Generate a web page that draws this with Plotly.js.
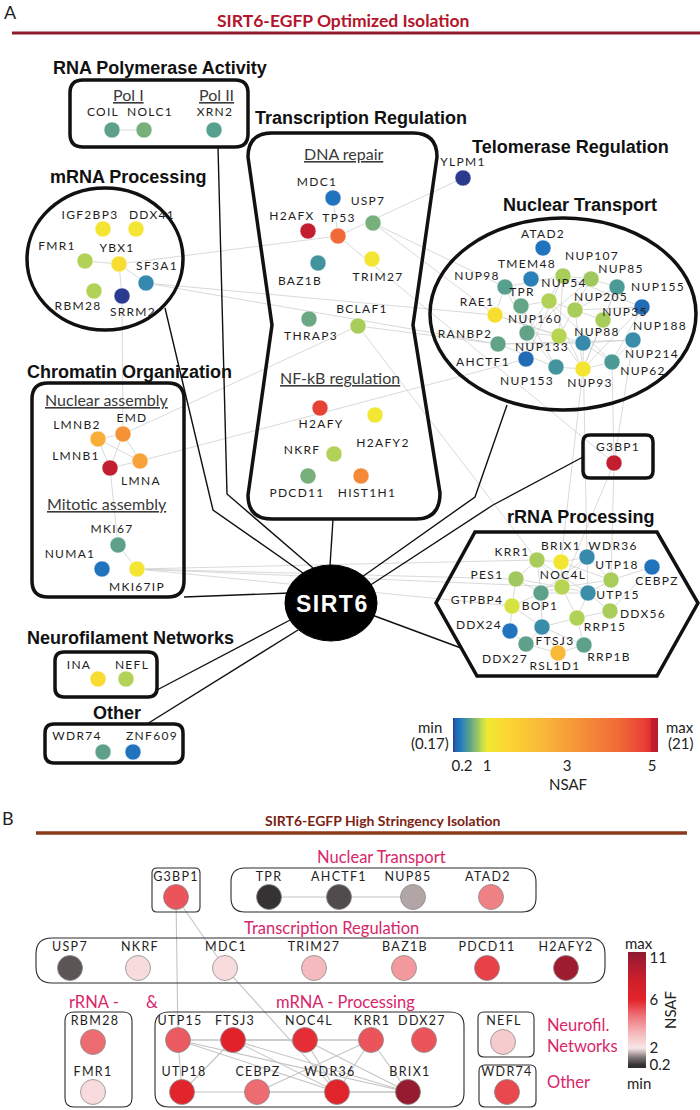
<!DOCTYPE html>
<html><head><meta charset="utf-8">
<script src="https://cdn.plot.ly/plotly-3.0.1.min.js"></script>
<style>
html,body{margin:0;padding:0;background:#fff;}
#chart{width:700px;height:1110px;}
.textpoint text{letter-spacing:1.3px;}
</style></head><body><div id="chart"></div>
<script>
// ================= DATA : Panel A (optimized isolation) =================
const genesA = ['COIL','NOLC1','XRN2',
 'IGF2BP3','DDX41','FMR1','YBX1','SF3A1','RBM28','SRRM2',
 'MDC1','H2AFX','TP53','USP7','BAZ1B','TRIM27','BCLAF1','THRAP3','H2AFY','H2AFY2','NKRF','PDCD11','HIST1H1',
 'YLPM1',
 'ATAD2','TMEM48','NUP107','NUP85','NUP98','NUP155','TPR','NUP54','NUP205','NUP188','RAE1','NUP35','NUP160','NUP133','RANBP2','NUP88','NUP214','AHCTF1','NUP153','NUP93','NUP62',
 'LMNB2','EMD','LMNB1','LMNA','MKI67','NUMA1','MKI67IP',
 'INA','NEFL','WDR74','ZNF609','G3BP1',
 'KRR1','BRIX1','WDR36','UTP18','CEBPZ','PES1','NOC4L','BOP1','UTP15','GTPBP4','DDX56','RRP15','DDX24','FTSJ3','DDX27','RRP1B','RSL1D1'];
const nsafA = [0.45,0.55,0.42,
 1.1,1.1,0.78,1.35,0.25,0.78,0.17,
 0.19,8,4.2,0.55,0.33,1.1,0.75,0.5,4.8,1.05,0.78,0.55,3.5,
 0.17,
 0.19,0.2,0.75,0.72,0.42,0.37,0.48,0.78,0.75,0.185,1.3,0.75,0.47,0.8,0.47,0.26,0.27,0.185,0.33,1.1,0.37,
 2.6,3.3,8,2.9,0.45,0.19,1.1,
 1.35,0.78,0.45,0.19,6.5,
 0.75,1.1,0.26,0.75,0.19,0.72,0.8,0.45,0.28,0.92,0.75,0.78,0.19,0.27,0.45,0.45,2.3];
const edgesA = [
 ['COIL','NOLC1'],
 ['FMR1','YBX1'],['YBX1','SF3A1'],['YBX1','SRRM2'],['YBX1','TP53'],['SF3A1','RAE1'],['SF3A1','RANBP2'],['SRRM2','EMD'],
 ['MDC1','TP53'],['TP53','YLPM1'],['TP53','G3BP1'],['USP7','NUP98'],['USP7','RAE1'],['BCLAF1','RANBP2'],['BCLAF1','KRR1'],['EMD','BCLAF1'],['LMNA','AHCTF1'],
 ['LMNB2','EMD'],['LMNB2','LMNA'],['LMNB2','LMNB1'],['EMD','LMNB1'],['EMD','LMNA'],['LMNB1','LMNA'],['LMNB1','MKI67'],['MKI67','MKI67IP'],
 ['MKI67IP','KRR1'],['MKI67IP','PES1'],['MKI67IP','GTPBP4'],['MKI67IP','NOC4L'],
 ['NUP98','TPR'],['NUP98','NUP107'],['NUP98','NUP160'],['NUP98','RAE1'],['TPR','NUP54'],['TPR','NUP160'],['TPR','NUP153'],['NUP107','NUP85'],['NUP107','NUP133'],['NUP107','NUP160'],['NUP85','NUP155'],['NUP85','NUP133'],['NUP85','NUP160'],['NUP54','NUP62'],['NUP54','NUP93'],['NUP54','NUP205'],['NUP205','NUP93'],['NUP205','NUP188'],['NUP205','NUP155'],['NUP35','NUP93'],['NUP35','NUP155'],['NUP35','NUP205'],['NUP188','NUP93'],['NUP160','NUP133'],['NUP160','NUP153'],['RANBP2','NUP88'],['RANBP2','NUP214'],['RANBP2','NUP153'],['NUP88','NUP214'],['NUP88','NUP62'],['NUP214','NUP62'],['NUP153','NUP93'],['NUP133','NUP93'],['NUP62','NUP93'],['RAE1','NUP88'],['AHCTF1','NUP107'],['AHCTF1','NUP160'],['NUP155','NUP93'],['NUP188','NUP62'],['RAE1','NUP133'],['NUP107','NUP188'],
 ['NUP93','BRIX1'],['NUP62','G3BP1'],['NUP214','G3BP1'],['G3BP1','UTP18'],['G3BP1','NOC4L'],['NUP88','WDR36'],
 ['KRR1','BRIX1'],['KRR1','PES1'],['KRR1','NOC4L'],['KRR1','BOP1'],['BRIX1','WDR36'],['BRIX1','NOC4L'],['BRIX1','UTP18'],['WDR36','UTP18'],['WDR36','UTP15'],['WDR36','NOC4L'],['UTP18','UTP15'],['UTP18','NOC4L'],['UTP18','CEBPZ'],['PES1','BOP1'],['PES1','GTPBP4'],['PES1','NOC4L'],['NOC4L','BOP1'],['NOC4L','UTP15'],['NOC4L','RRP15'],['BOP1','GTPBP4'],['BOP1','FTSJ3'],['BOP1','UTP15'],['UTP15','DDX56'],['UTP15','RRP15'],['GTPBP4','FTSJ3'],['GTPBP4','DDX24'],['DDX56','RRP15'],['RRP15','FTSJ3'],['RRP15','RRP1B'],['FTSJ3','DDX27'],['FTSJ3','RSL1D1'],['FTSJ3','RRP1B'],['DDX27','RSL1D1'],['RRP1B','RSL1D1'],['DDX24','DDX27'],['BOP1','WDR36'],['KRR1','UTP15'],['CEBPZ','DDX56']
];
const ticksA = [0.2, 1, 3, 5];
const tickTextA = ['0.2','1','3','5'];

// ================= DATA : Panel B (high stringency) =================
const genesB = ['G3BP1','TPR','AHCTF1','NUP85','ATAD2',
 'USP7','NKRF','MDC1','TRIM27','BAZ1B','PDCD11','H2AFY2',
 'RBM28','FMR1',
 'UTP15','FTSJ3','NOC4L','KRR1','DDX27','UTP18','CEBPZ','WDR36','BRIX1',
 'NEFL','WDR74'];
const nsafB = [5.2,0.2,0.5,1.4,4.4,
 0.62,2.27,2.3,3.2,3.9,5.5,11,
 4.8,2.3,
 5.1,6.3,5.85,5.2,5.2,6.1,4.8,6.2,12,
 2.75,5.4];
const edgesB = [['TPR','AHCTF1'],['AHCTF1','NUP85'],['G3BP1','MDC1'],['G3BP1','UTP15'],['MDC1','WDR36'],
 ['UTP15','FTSJ3'],['UTP15','UTP18'],['UTP15','WDR36'],['UTP15','BRIX1'],['UTP15','NOC4L'],['FTSJ3','NOC4L'],['FTSJ3','UTP18'],['FTSJ3','WDR36'],['FTSJ3','BRIX1'],['NOC4L','KRR1'],['NOC4L','WDR36'],['NOC4L','BRIX1'],['KRR1','CEBPZ'],['KRR1','WDR36'],['KRR1','BRIX1'],['UTP18','CEBPZ'],['CEBPZ','WDR36'],['WDR36','BRIX1'],['FTSJ3','KRR1'],['CEBPZ','BRIX1']];
const ticksB = [0.2, 2, 6, 11];
const tickTextB = ['0.2','2','6','11'];

// ================= LAYOUT TABLES (positions: node x,y ; label x,y) =================
const posA = {
 COIL:[112,130,103,113], NOLC1:[144,130,150,113], XRN2:[214,130,215,113],
 IGF2BP3:[103,229,90,216], DDX41:[136,229,152,216], FMR1:[85,261,57,247], YBX1:[119,264,117,249], SF3A1:[146,283,157,267], RBM28:[94,291,78,307], SRRM2:[122,296,133,313],
 MDC1:[333,198,317,183], H2AFX:[308,231,292,217], TP53:[338,236,339,219], USP7:[373,223,368,202], BAZ1B:[318,263,300,282], TRIM27:[372,259,378,278], BCLAF1:[358,326,362,310], THRAP3:[309,319,311,337], H2AFY:[320,408,321,425], H2AFY2:[375,415,383,444], NKRF:[334,454,302,451], PDCD11:[308,476,297,494], HIST1H1:[361,476,367,494],
 YLPM1:[463,178,463,163],
 ATAD2:[543,248,543,235], TMEM48:[531,279,527,265], NUP107:[563,276,592,257], NUP85:[591,279,621,270], NUP98:[505,287,477,277], NUP155:[617,287,658,288], TPR:[521,306,522,293], NUP54:[549,301,564,284], NUP205:[575,310,601,298], NUP188:[642,307,660,327], RAE1:[495,315,477,303], NUP35:[603,320,625,313], NUP160:[527,333,535,320], NUP133:[559,336,542,348], RANBP2:[498,344,465,335], NUP88:[583,343,597,333], NUP214:[633,340,652,355], AHCTF1:[526,359,483,363], NUP153:[556,367,527,382], NUP93:[583,369,590,384], NUP62:[612,362,643,372],
 LMNB2:[98,439,77,426], EMD:[123,434,132,419], LMNB1:[110,468,76,457], LMNA:[140,461,141,482], MKI67:[118,545,112,530], NUMA1:[102,569,70,555], MKI67IP:[137,569,137,588],
 INA:[98,679,79,666], NEFL:[126,679,132,666], WDR74:[103,752,77,737], ZNF609:[133,752,152,737], G3BP1:[614,463,618,448],
 KRR1:[537,560,512,553], BRIX1:[561,562,561,547], WDR36:[587,557,613,547], UTP18:[611,580,617,566], CEBPZ:[652,567,657,582], PES1:[516,579,487,576], NOC4L:[562,587,563,576], BOP1:[541,593,540,607], UTP15:[588,593,618,596], GTPBP4:[512,606,477,601], DDX56:[610,611,643,615], RRP15:[577,618,605,628], DDX24:[510,631,479,626], FTSJ3:[542,627,555,642], DDX27:[526,644,505,660], RRP1B:[584,645,609,658], RSL1D1:[558,653,555,667]
};
const posB = {
 G3BP1:[176,897,176,878], TPR:[269,897,269,878], AHCTF1:[339,897,339,878], NUP85:[413,897,408,878], ATAD2:[491,897,488,878],
 USP7:[70,968,70,948], NKRF:[138,968,140,948], MDC1:[225,968,226,948], TRIM27:[314,968,314,948], BAZ1B:[404,968,405,948], PDCD11:[487,968,487,948], H2AFY2:[566,968,566,948],
 RBM28:[93,1042,95,1022], FMR1:[93,1092,93,1073],
 UTP15:[178,1040,180,1022], FTSJ3:[233,1040,235,1022], NOC4L:[305,1040,309,1022], KRR1:[371,1040,372,1022], DDX27:[424,1040,422,1022],
 UTP18:[182,1092,184,1073], CEBPZ:[257,1092,258,1073], WDR36:[337,1092,330,1073], BRIX1:[408,1092,410,1073],
 NEFL:[503,1042,504,1022], WDR74:[507,1092,507,1073]
};
// colour-bar geometry (value -> fraction of bar)
const barA = {v:[0.17,0.2,1,3,5,21], t:[0,0.044,0.166,0.556,0.971,1]};
const barB = {v:[0.15,0.2,2,6,11,13], t:[0,0.026,0.172,0.586,0.948,1]};
function toBar(v, k){
  if(v<=k.v[0]) return k.t[0];
  for(let i=1;i<k.v.length;i++){ if(v<=k.v[i]) return k.t[i-1]+(v-k.v[i-1])/(k.v[i]-k.v[i-1])*(k.t[i]-k.t[i-1]); }
  return k.t[k.t.length-1];
}
const scaleA = [[0,'#2a3b8f'],[0.012,'#2563ad'],[0.035,'#1f78c1'],[0.055,'#3a8cab'],[0.07,'#4b9a96'],[0.085,'#62a388'],[0.10,'#7cb379'],[0.125,'#a3ca5c'],[0.145,'#c8df4b'],[0.17,'#f2e832'],[0.26,'#fbd731'],[0.45,'#f9b53a'],[0.6,'#f59638'],[0.8,'#f06c37'],[0.93,'#e84236'],[0.962,'#e33031'],[0.968,'#c51f2f'],[1,'#b81b2e']];
const scaleB = [[0,'#2f2c2d'],[0.026,'#353233'],[0.09,'#7d7475'],[0.14,'#cdbdbe'],[0.172,'#f7e6e8'],[0.3,'#f5b9bc'],[0.45,'#ee7378'],[0.586,'#e3242b'],[0.75,'#cf1f2b'],[0.948,'#9e1b30'],[1,'#8e1a2f']];

// ================= BUILD TRACES =================
function edgeXY(edges,pos){const x=[],y=[];edges.forEach(([a,b])=>{x.push(pos[a][0],pos[b][0],null);y.push(pos[a][1],pos[b][1],null);});return {x,y};}
const eA = edgeXY(edgesA,posA), eB = edgeXY(edgesB,posB);
const traces = [
 {type:'scatter',mode:'lines',x:eA.x,y:eA.y,line:{color:'#cfcfcf',width:0.8},hoverinfo:'skip'},
 {type:'scatter',mode:'lines',x:eB.x,y:eB.y,line:{color:'#c4c4c4',width:1.1},hoverinfo:'skip'},
 {type:'scatter',mode:'markers',x:genesA.map(g=>posA[g][0]),y:genesA.map(g=>posA[g][1]),
  marker:{size:16,color:nsafA.map(v=>toBar(v,barA)),coloraxis:'coloraxis',line:{color:'rgba(255,255,255,0.65)',width:0.8}}},
 {type:'scatter',mode:'text',x:genesA.map(g=>posA[g][2]),y:genesA.map(g=>posA[g][3]),text:genesA,textposition:'middle center',
  textfont:{family:'Lato',size:12,color:'#1e1e1e'},cliponaxis:false},
 {type:'scatter',mode:'markers',x:genesB.map(g=>posB[g][0]),y:genesB.map(g=>posB[g][1]),
  marker:{size:25,color:nsafB.map(v=>toBar(v,barB)),coloraxis:'coloraxis2',line:{color:'#8a8a8a',width:0.8}}},
 {type:'scatter',mode:'text',x:genesB.map(g=>posB[g][2]),y:genesB.map(g=>posB[g][3]),text:genesB,textposition:'middle center',
  textfont:{family:'Lato',size:12.5,color:'#1e1e1e'},cliponaxis:false}
];

// ================= SHAPES =================
function rr(x0,y0,x1,y1,r){return `M${x0+r},${y0} L${x1-r},${y0} Q${x1},${y0} ${x1},${y0+r} L${x1},${y1-r} Q${x1},${y1} ${x1-r},${y1} L${x0+r},${y1} Q${x0},${y1} ${x0},${y1-r} L${x0},${y0+r} Q${x0},${y0} ${x0+r},${y0} Z`;}
const thick = {color:'#111',width:3.5};
const conn = {color:'#111',width:1.4};
const thin = {color:'#2a2a2a',width:1.1};
const shapes = [
 {type:'line',x0:12,x1:700,y0:33,y1:33,line:{color:'#8e1b2c',width:3}},
 {type:'path',path:rr(70,80,248,147,13),line:thick},
 {type:'path',path:'M272,133 L413,133 Q437,133 437,157 L413,325 L440,493 Q440,519 416,519 L272,519 Q248,519 248,495 L272,325 L248,157 Q248,133 272,133 Z',line:thick},
 {type:'circle',x0:27,x1:183,y0:188,y1:330,line:thick},
 {type:'circle',x0:430,x1:696,y0:218,y1:410,line:thick},
 {type:'path',path:rr(32,383,184,597,16),line:thick},
 {type:'path',path:rr(55,652,157,697,9),line:thick},
 {type:'path',path:rr(45,724,183,763,9),line:thick},
 {type:'path',path:rr(583,435,653,478,7),line:thick},
 {type:'path',path:'M475,532 L657,532 L698,603 L657,676 L477,676 L436,603 Z',line:thick},
 {type:'path',path:'M165,308 L213,510 L303,573',line:conn},
 {type:'path',path:'M218,147 L227,494 L313,568',line:conn},
 {type:'path',path:'M333,519 L330,566',line:conn},
 {type:'path',path:'M507,405 L475,497 L362,577',line:conn},
 {type:'path',path:'M583,457 L493,505 L369,586',line:conn},
 {type:'path',path:'M372,615 L461,648',line:conn},
 {type:'path',path:'M184,597 L290,593',line:conn},
 {type:'path',path:'M157,690 L292,619',line:conn},
 {type:'path',path:'M147,724 L298,630',line:conn},
 {type:'circle',x0:285,x1:377,y0:565,y1:641,fillcolor:'#000',line:{color:'#000',width:1}},
 // Panel B
 {type:'line',x0:36,x1:687,y0:833,y1:833,line:{color:'#8b3a1c',width:3.5}},
 {type:'path',path:rr(152,868,200,912,5),line:thin},
 {type:'path',path:rr(231,868,536,912,14),line:thin},
 {type:'path',path:rr(36,938,605,983,16),line:thin},
 {type:'path',path:rr(65,1012,132,1107,9),line:thin},
 {type:'path',path:rr(155,1012,464,1107,14),line:thin},
 {type:'path',path:rr(478,1012,534,1057,6),line:thin},
 {type:'path',path:rr(479,1065,536,1107,6),line:thin}
];

// ================= ANNOTATIONS =================
const anns = [];
function ann(text,x,y,font,extra){anns.push(Object.assign({text,x,y,xref:'x',yref:'y',showarrow:false,xanchor:'center',yanchor:'middle',font},extra||{}));}
const hd = {family:'Liberation Sans, Arial',size:18,color:'#111'};
const ul = {family:'Lato',size:16,color:'#3a3a3a'};
const pink = {family:'Lato',size:16.5,color:'#d8266a'};
ann('A',10,12,{family:'Lato',size:18,color:'#222'});
ann('<b>SIRT6-EGFP Optimized Isolation</b>',343,20,{family:'Lato',size:17.5,color:'#b3162c'});
ann('<b>RNA Polymerase Activity</b>',160,68,hd);
ann('<b>Transcription Regulation</b>',361,118,hd);
ann('<b>Telomerase Regulation</b>',570,147,hd);
ann('<b>mRNA Processing</b>',128,177,hd);
ann('<b>Nuclear Transport</b>',580,205,hd);
ann('<b>Chromatin Organization</b>',129,372,hd);
ann('<b>rRNA Processing</b>',580,517,hd);
ann('<b>Neurofilament Networks</b>',130,638,hd);
ann('<b>Other</b>',117,713,hd);
const u = t=>`<span style="text-decoration:underline">${t}</span>`;
ann(u('Pol I'),128,94,ul); ann(u('Pol II'),216,94,ul);
ann(u('DNA repair'),343,153,ul); ann(u('NF-kB regulation'),340,377,ul);
ann(u('Nuclear assembly'),107,399,ul); ann(u('Mitotic assembly'),107,503,ul);
ann('<b><span style="letter-spacing:1.5px">SIRT6</span></b>',332,604,{family:'Liberation Sans, Arial',size:23,color:'#fff'});
const cbf = {family:'Lato',size:15,color:'#222'};
ann('min',430,727,cbf); ann('(0.17)',430,743,cbf); ann('max',680,727,cbf); ann('(21)',680,743,cbf); ann('NSAF',568,784,cbf);
// Panel B
ann('B',8,818,{family:'Lato',size:18,color:'#222'});
ann('<b>SIRT6-EGFP High Stringency Isolation</b>',383,820,{family:'Lato',size:14,color:'#7b2213'});
ann('Nuclear Transport',381,857,pink);
ann('Transcription Regulation',331,928,pink);
ann('rRNA -',94,1002,pink); ann('&',152,1002,pink); ann('mRNA - Processing',345,1002,pink);
ann('Neurofil.',545,1025,pink,{xanchor:'left'}); ann('Networks',545,1046,pink,{xanchor:'left'}); ann('Other',545,1082,pink,{xanchor:'left'});
ann('max',639,943,cbf); ann('min',639,1083,cbf);

const layout = {
 width:700,height:1110,autosize:false,margin:{l:0,r:0,t:0,b:0},
 paper_bgcolor:'#fff',plot_bgcolor:'#fff',showlegend:false,hovermode:false,
 xaxis:{range:[0,700],visible:false,fixedrange:true},
 yaxis:{range:[1110,0],visible:false,fixedrange:true},
 shapes, annotations:anns,
 coloraxis:{cmin:0,cmax:1,colorscale:scaleA,colorbar:{orientation:'h',x:555.5/700,xanchor:'center',y:1-718/1110,yanchor:'top',
   len:205,lenmode:'pixels',thickness:34,thicknessmode:'pixels',xpad:0,ypad:0,outlinewidth:0,ticks:'',
   tickvals:ticksA.map(v=>toBar(v,barA)),ticktext:tickTextA,tickfont:{family:'Lato',size:15,color:'#222'}}},
 coloraxis2:{cmin:0,cmax:1,colorscale:scaleB,colorbar:{orientation:'v',x:628/700,xanchor:'left',y:1-952/1110,yanchor:'top',
   len:116,lenmode:'pixels',thickness:18,thicknessmode:'pixels',xpad:0,ypad:0,outlinewidth:0,ticks:'',
   tickvals:ticksB.map(v=>toBar(v,barB)),ticktext:tickTextB,tickfont:{family:'Lato',size:15,color:'#222'},
   title:{text:'NSAF',side:'right',font:{family:'Lato',size:15,color:'#222'}}}}
};
Plotly.newPlot('chart',traces,layout,{staticPlot:true,displayModeBar:false});
</script></body></html>
